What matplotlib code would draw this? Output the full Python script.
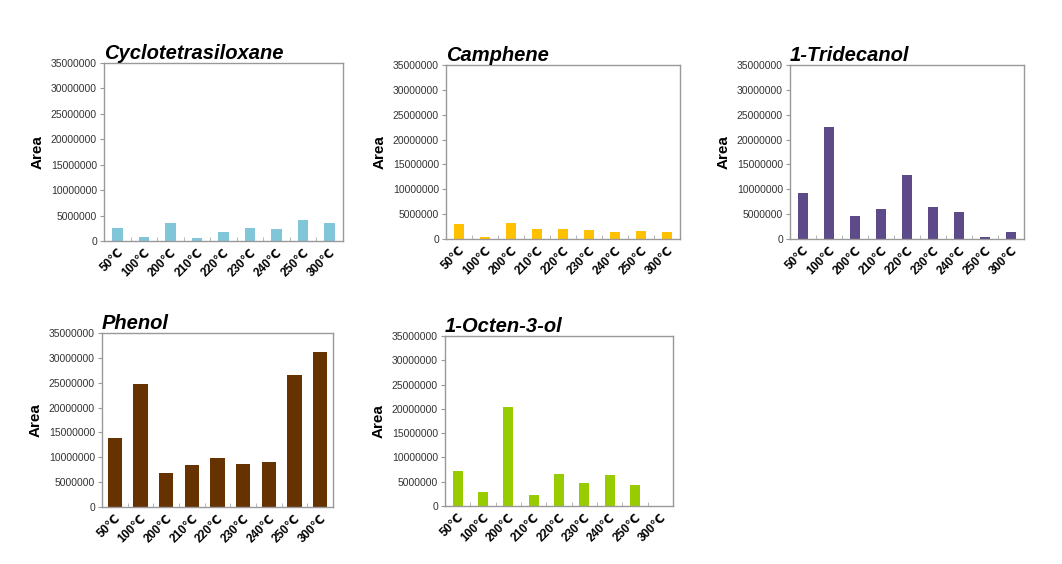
import numpy as np
import matplotlib
matplotlib.use("Agg")
import matplotlib.pyplot as plt

plt.rcParams['font.family'] = ['Liberation Sans', 'DejaVu Sans']

temps = ["50℃", "100℃", "200℃", "210℃", "220℃", "230℃", "240℃", "250℃", "300℃"]

cyclotetrasiloxane = [2600000, 800000, 3500000, 650000, 1800000, 2600000, 2300000, 4100000, 3600000]
camphene = [3000000, 400000, 3150000, 2000000, 1950000, 1900000, 1500000, 1600000, 1350000]
tridecanol = [9300000, 22500000, 4700000, 6000000, 12900000, 6400000, 5400000, 500000, 1500000]
phenol = [13900000, 24700000, 6850000, 8400000, 9850000, 8650000, 9000000, 26600000, 31250000]
octenol = [7300000, 2950000, 20400000, 2200000, 6650000, 4800000, 6450000, 4250000, 0]

names = ["Cyclotetrasiloxane", "Camphene", "1-Tridecanol", "Phenol", "1-Octen-3-ol"]
series = [cyclotetrasiloxane, camphene, tridecanol, phenol, octenol]
colors = ["#80c6d8", "#ffc000", "#5d4a88", "#663300", "#99cc00"]
widths = [0.4, 0.4, 0.4, 0.57, 0.4]

W, H = 1062, 564
# pixel boxes: left, top, right, bottom
boxes = [(104, 63, 343, 241), (446, 65, 680, 239), (790, 65, 1024, 239),
         (102, 333, 333, 507), (445, 336, 673, 506)]

fig = plt.figure(figsize=(W / 100, H / 100), dpi=100)
fig.patch.set_facecolor("white")

for name, vals, col, bw, (l, t, r, b) in zip(names, series, colors, widths, boxes):
    ax = fig.add_axes([l / W, 1 - b / H, (r - l) / W, (b - t) / H])
    x = np.arange(len(temps))
    ax.bar(x, vals, width=bw, color=col)
    ax.set_xlim(-0.5, len(temps) - 0.5)
    ax.set_ylim(0, 35000000)
    ax.set_yticks(np.arange(0, 35000001, 5000000))
    ax.set_yticklabels([str(v) for v in range(0, 35000001, 5000000)], fontsize=7.5, color="#333333")
    ax.set_xticks(x)
    ax.set_xticklabels(temps, rotation=45, ha="right", rotation_mode="anchor",
                       fontsize=8.5, fontweight="bold")
    ax.tick_params(axis="x", length=0, pad=4)
    ax.set_xticks(np.arange(0.5, len(temps) - 0.5), minor=True)
    ax.tick_params(axis="x", which="minor", direction="in", length=3, color="#aaaaaa")
    ax.tick_params(axis="y", length=3, color="#999999", pad=2)
    for s in ax.spines.values():
        s.set_color("#999999")
        s.set_linewidth(1.0)
    ax.set_ylabel("Area", fontsize=11, fontweight="bold")
    ax.yaxis.set_label_coords(-59 / (r - l), 0.5)
    ax.set_title(name, loc="left", fontsize=14.5, fontweight="bold", style="italic", pad=1)

fig.savefig("out.png", dpi=100)
